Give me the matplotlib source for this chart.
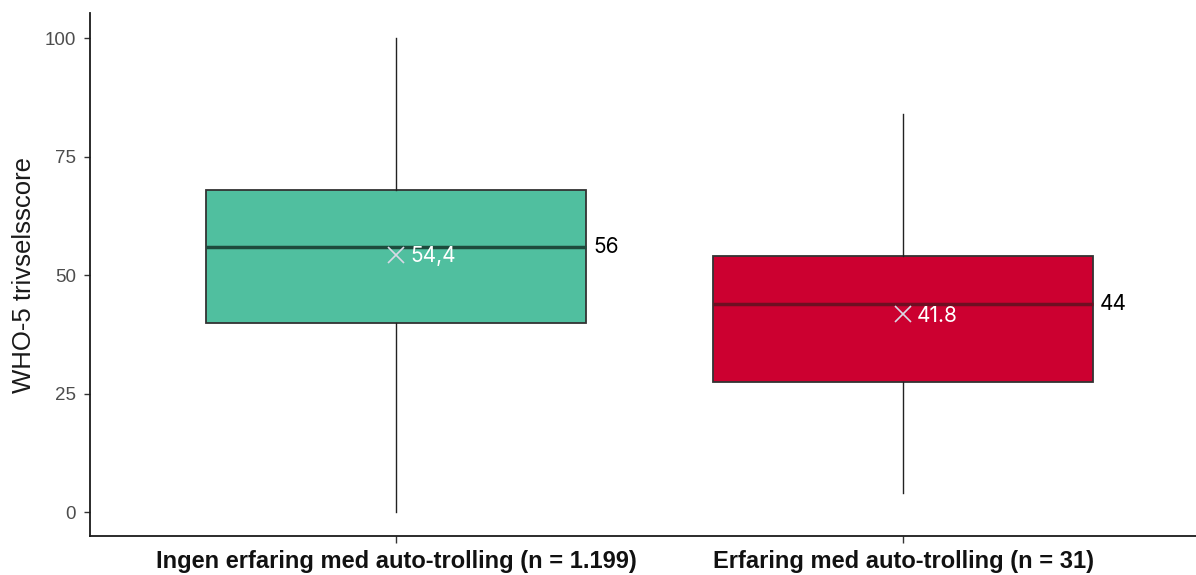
import matplotlib
matplotlib.use("Agg")
import matplotlib.pyplot as plt

categories = ["Ingen erfaring med auto-trolling (n = 1.199)",
              "Erfaring med auto-trolling (n = 31)"]
whislo = [0, 4]
q1 = [40, 27.6]
med = [56, 44]
q3 = [68, 54]
whishi = [100, 84]
means = [54.4, 41.8]
mean_labels = ["54,4", "41.8"]
median_labels = ["56", "44"]
colors = ["#50BF9F", "#CC0030"]
median_colors = ["#1d4a3c", "#6e0f22"]

fig = plt.figure(figsize=(11.96, 5.75), dpi=100)
ax = fig.add_axes([0.0753, 0.0678, 0.9247, 0.909])

stats = []
for i in range(len(categories)):
    stats.append(dict(whislo=whislo[i], q1=q1[i], med=med[i], q3=q3[i],
                      whishi=whishi[i], fliers=[], label=categories[i]))

bp = ax.bxp(stats, positions=range(len(categories)), widths=0.75,
            patch_artist=True, showcaps=False, showfliers=False,
            boxprops=dict(edgecolor="#333333", linewidth=1.3),
            whiskerprops=dict(color="#222222", linewidth=1.0),
            medianprops=dict(linewidth=2.5))
for i, box in enumerate(bp["boxes"]):
    box.set_facecolor(colors[i])
    bp["medians"][i].set_color(median_colors[i])

for i in range(len(categories)):
    ax.plot(i, means[i], marker="x", markersize=11, mew=1.2,
            color="#d9d9e6", zorder=5)
    ax.annotate(mean_labels[i], (i, means[i]), xytext=(10, -1),
                textcoords="offset points", color="white", fontsize=15,
                family="Inter", va="center", ha="left", zorder=6)
    ax.annotate(median_labels[i], (i + 0.375, med[i]), xytext=(5, 0),
                textcoords="offset points", color="black", fontsize=15,
                family="Inter", va="center", ha="left")

ax.set_xlim(-0.604, 1.578)
ax.set_ylim(-5, 105.3)
ax.set_yticks([0, 25, 50, 75, 100])
ax.tick_params(axis="y", labelsize=13.5, labelcolor="#4d4d4d", color="#333333",
               length=4, width=1, pad=6)
ax.tick_params(axis="x", labelsize=17, color="#333333", length=5, width=1, pad=5)
for lab in ax.get_yticklabels():
    lab.set_family("Liberation Sans")
ax.set_xticks(range(len(categories)))
ax.set_xticklabels(categories, family="Liberation Sans", fontweight="bold",
                   color="#111111")
ax.set_ylabel("WHO-5 trivselsscore", fontsize=18.5, family="Liberation Sans",
              color="#1a1a1a", labelpad=6)
for s in ["top", "right"]:
    ax.spines[s].set_visible(False)
for s in ["left", "bottom"]:
    ax.spines[s].set_linewidth(1.3)
    ax.spines[s].set_color("#1a1a1a")

fig.savefig("out.png", dpi=100)
